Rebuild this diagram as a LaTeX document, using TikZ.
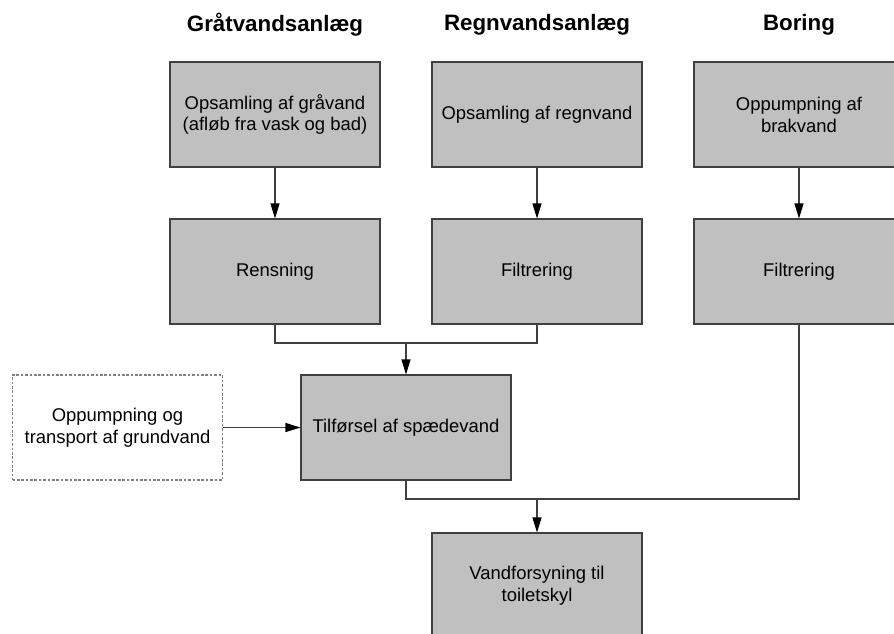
\documentclass[tikz,border=0pt]{standalone}
\usepackage{fontspec}
\setmainfont{Liberation Sans}
\usetikzlibrary{arrows.meta}

\definecolor{boxgray}{HTML}{C0C0C0}
\definecolor{linegray}{HTML}{404040}

\begin{document}
\begin{tikzpicture}[
    % Define styles
    box/.style={
        rectangle,
        draw=linegray,
        fill=boxgray,
        line width=0.6pt,
        minimum width=4.2cm,
        minimum height=2.1cm,
        inner sep=0pt,
        align=center,
        font=\fontsize{10.5}{12.4}\selectfont
    },
    extbox/.style={
        box,
        fill=white,
        draw=gray,
        dash pattern=on 1.5pt off 1pt
    },
    flow/.style={
        linegray,
        line width=0.6pt
    },
    flow_arrow/.style={
        flow,
        -{Triangle[length=0.3cm, width=0.18cm, black]}
    },
    title_text/.style={
        font=\fontsize{12.7}{15}\selectfont\bfseries,
        text=black
    }
]
    \useasboundingbox (0,0) rectangle (17.88,-12.66);
    \clip (0,0) rectangle (17.88,-12.66);

    % --- Titles ---
    \node[title_text] (t1) at (5.5, -0.5) {Gråtvandsanlæg};
    \node[title_text] (t2) at (10.74, -0.5) {Regnvandsanlæg};
    \node[title_text] (t3) at (15.98, -0.5) {Boring};

    % --- Top row ---
    \node[box] (graa) at (5.5, -2.29) {Opsamling af gråvand\\(afløb fra vask og bad)};
    \node[box] (regn) at (10.74, -2.29) {Opsamling af regnvand};
    \node[box] (brak) at (15.98, -2.29) {Oppumpning af\\brakvand};

    % --- Treatment row ---
    \node[box] (rens) at (5.5, -5.43) {Rensning};
    \node[box] (filt1) at (10.74, -5.43) {Filtrering};
    \node[box] (filt2) at (15.98, -5.43) {Filtrering};

    % --- Make-up water ---
    \node[box] (spaed) at (8.12, -8.55) {Tilførsel af spædevand};
    \node[extbox] (grund) at (2.35, -8.55) {Oppumpning og\\transport af grundvand};

    % --- Supply ---
    \node[box] (toilet) at (10.74, -11.71) {Vandforsyning til\\toiletskyl};

    % Junction points
    \coordinate (j1) at (8.12, -6.86);
    \coordinate (j2) at (10.74, -9.98);

    % Vertical arrows in each column
    \foreach \a/\b in {graa/rens, regn/filt1, brak/filt2} {
        \draw[flow_arrow] (\a) -- (\b);
    }

    % Merge into spaedevand
    \draw[flow] (rens.south) |- (j1);
    \draw[flow] (filt1.south) |- (j1);
    \draw[flow_arrow] (j1) -- (spaed.north);
    \draw[flow_arrow] (grund) -- (spaed);

    % Merge into water supply
    \draw[flow] (spaed.south) |- (j2);
    \draw[flow] (filt2.south) |- (j2);
    \draw[flow_arrow] (j2) -- (toilet.north);

\end{tikzpicture}
\end{document}
